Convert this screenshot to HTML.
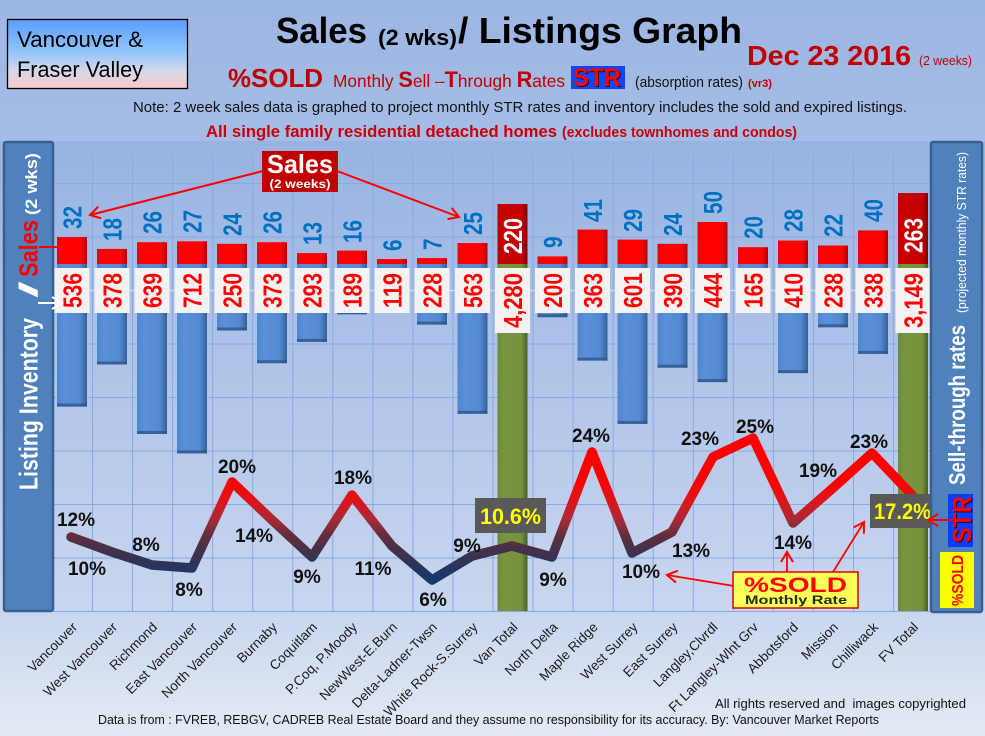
<!DOCTYPE html>
<html><head><meta charset="utf-8">
<style>
html,body{margin:0;padding:0;}
body{width:985px;height:736px;overflow:hidden;background:#c9d6ef;}
svg{display:block;font-family:"Liberation Sans",sans-serif;}
.sl{font-weight:bold;font-size:26px;fill:#0070c0;}
.il{font-weight:bold;font-size:26px;fill:#ff0000;}
.tl{font-weight:bold;font-size:26px;fill:#ffffff;}
.pc{font-weight:bold;font-size:19px;fill:#111;text-anchor:middle;}
.cat{font-size:13.5px;fill:#1a1a1a;text-anchor:end;}
</style></head><body>
<svg width="985" height="736" viewBox="0 0 985 736" xmlns="http://www.w3.org/2000/svg">
<defs>
 <linearGradient id="bgTop" x1="0" y1="0" x2="0" y2="1">
  <stop offset="0" stop-color="#9cb6e2"/><stop offset="1" stop-color="#a5bde6"/>
 </linearGradient>
 <linearGradient id="bgMain" gradientUnits="userSpaceOnUse" x1="0" y1="141" x2="0" y2="736">
  <stop offset="0" stop-color="#98b3e2"/><stop offset="0.79" stop-color="#c9d6ef"/><stop offset="1" stop-color="#e4eaf5"/>
 </linearGradient>
 <linearGradient id="vanbox" x1="0" y1="0" x2="0" y2="1">
  <stop offset="0" stop-color="#5b9dff"/><stop offset="0.45" stop-color="#8fc3fb"/><stop offset="0.75" stop-color="#d6d8ea"/><stop offset="1" stop-color="#fcc8cb"/>
 </linearGradient>
 <linearGradient id="blue" x1="0" y1="0" x2="1" y2="0">
  <stop offset="0" stop-color="#4e85cf"/><stop offset="0.25" stop-color="#5b90d8"/><stop offset="0.75" stop-color="#548ad3"/><stop offset="1" stop-color="#34609a"/>
 </linearGradient>
 <linearGradient id="red" x1="0" y1="0" x2="1" y2="0">
  <stop offset="0" stop-color="#ee0000"/><stop offset="0.2" stop-color="#ff0000"/><stop offset="0.8" stop-color="#fe0000"/><stop offset="1" stop-color="#b80000"/>
 </linearGradient>
 <linearGradient id="dred" x1="0" y1="0" x2="1" y2="0">
  <stop offset="0" stop-color="#b80000"/><stop offset="0.2" stop-color="#c80000"/><stop offset="0.8" stop-color="#c40000"/><stop offset="1" stop-color="#850000"/>
 </linearGradient>
 <linearGradient id="green" x1="0" y1="0" x2="1" y2="0">
  <stop offset="0" stop-color="#6e8935"/><stop offset="0.2" stop-color="#79953e"/><stop offset="0.8" stop-color="#76923c"/><stop offset="1" stop-color="#4a5d23"/>
 </linearGradient>
 <linearGradient id="line" gradientUnits="userSpaceOnUse" x1="0" y1="440" x2="0" y2="582">
  <stop offset="0" stop-color="#ff0000"/>
  <stop offset="0.27" stop-color="#ff0000"/>
  <stop offset="0.42" stop-color="#e01418"/>
  <stop offset="0.56" stop-color="#a82a36"/>
  <stop offset="0.68" stop-color="#5e2e3e"/>
  <stop offset="0.82" stop-color="#383250"/>
  <stop offset="1" stop-color="#123a6e"/>
 </linearGradient>
 <marker id="ar" markerUnits="userSpaceOnUse" markerWidth="14" markerHeight="14" viewBox="-12 -7 14 14" refX="0" refY="0" orient="auto">
  <path d="M-10,-6 L0,0 L-10,6" fill="none" stroke="#ff0000" stroke-width="2"/>
 </marker>
 <marker id="aw" markerUnits="userSpaceOnUse" markerWidth="14" markerHeight="14" viewBox="-12 -7 14 14" refX="0" refY="0" orient="auto">
  <path d="M-10,-6 L0,0 L-10,6" fill="none" stroke="#ffffff" stroke-width="2"/>
 </marker>
</defs>

<!-- backgrounds -->
<rect x="0" y="0" width="985" height="141" fill="url(#bgTop)"/>
<rect x="0" y="141" width="985" height="595" fill="url(#bgMain)"/>

<!-- grid -->
<g stroke="#87aae4" stroke-width="1">
 <line x1="53" y1="183.5" x2="930" y2="183.5"/>
 <line x1="53" y1="237" x2="930" y2="237"/>
 <line x1="53" y1="344" x2="930" y2="344"/>
 <line x1="53" y1="397.5" x2="930" y2="397.5"/>
 <line x1="53" y1="451" x2="930" y2="451"/>
 <line x1="53" y1="504.5" x2="930" y2="504.5"/>
 <line x1="53" y1="558" x2="930" y2="558"/>
 <line x1="53" y1="611.5" x2="930" y2="611.5"/>
 <line x1="92.5" y1="155" x2="92.5" y2="611"/>
 <line x1="132.5" y1="155" x2="132.5" y2="611"/>
 <line x1="172.6" y1="155" x2="172.6" y2="611"/>
 <line x1="212.7" y1="155" x2="212.7" y2="611"/>
 <line x1="252.7" y1="155" x2="252.7" y2="611"/>
 <line x1="292.8" y1="155" x2="292.8" y2="611"/>
 <line x1="332.8" y1="155" x2="332.8" y2="611"/>
 <line x1="372.9" y1="155" x2="372.9" y2="611"/>
 <line x1="412.9" y1="155" x2="412.9" y2="611"/>
 <line x1="452.9" y1="155" x2="452.9" y2="611"/>
 <line x1="493" y1="155" x2="493" y2="611"/>
 <line x1="533" y1="155" x2="533" y2="611"/>
 <line x1="573.1" y1="155" x2="573.1" y2="611"/>
 <line x1="613.2" y1="155" x2="613.2" y2="611"/>
 <line x1="653.2" y1="155" x2="653.2" y2="611"/>
 <line x1="693.3" y1="155" x2="693.3" y2="611"/>
 <line x1="733.3" y1="155" x2="733.3" y2="611"/>
 <line x1="773.4" y1="155" x2="773.4" y2="611"/>
 <line x1="813.4" y1="155" x2="813.4" y2="611"/>
 <line x1="853.5" y1="155" x2="853.5" y2="611"/>
 <line x1="893.5" y1="155" x2="893.5" y2="611"/>
</g>
<line x1="53" y1="290.5" x2="930" y2="290.5" stroke="#d6deeb" stroke-width="1.2"/>

<!-- blue inventory bars -->
<g fill="url(#blue)">
 <rect x="57" y="264" width="30" height="142.6"/>
 <rect x="97" y="264" width="30" height="100.5"/>
 <rect x="137" y="264" width="30" height="170"/>
 <rect x="177" y="264" width="30" height="189.4"/>
 <rect x="217" y="264" width="30" height="66.5"/>
 <rect x="257" y="264" width="30" height="99.2"/>
 <rect x="297" y="264" width="30" height="77.9"/>
 <rect x="337" y="264" width="30" height="50.3"/>
 <rect x="377" y="264" width="30" height="31.7"/>
 <rect x="417" y="264" width="30" height="60.6"/>
 <rect x="457.5" y="264" width="30" height="149.8"/>
 <rect x="537.5" y="264" width="30" height="53.2"/>
 <rect x="577.5" y="264" width="30" height="96.6"/>
 <rect x="617.5" y="264" width="30" height="159.9"/>
 <rect x="657.5" y="264" width="30" height="103.7"/>
 <rect x="697.5" y="264" width="30" height="118.1"/>
 <rect x="738" y="264" width="30" height="43.9"/>
 <rect x="778" y="264" width="30" height="109.1"/>
 <rect x="818" y="264" width="30" height="63.3"/>
 <rect x="858" y="264" width="30" height="89.9"/>
</g>
<!-- bar bottom shading -->
<g fill="#2d5385" opacity="0.75">
 <rect x="57" y="403.6" width="30" height="3"/>
 <rect x="97" y="361.5" width="30" height="3"/>
 <rect x="137" y="431" width="30" height="3"/>
 <rect x="177" y="450.4" width="30" height="3"/>
 <rect x="217" y="327.5" width="30" height="3"/>
 <rect x="257" y="360.2" width="30" height="3"/>
 <rect x="297" y="338.9" width="30" height="3"/>
 <rect x="337" y="311.3" width="30" height="3"/>
 <rect x="417" y="321.6" width="30" height="3"/>
 <rect x="457.5" y="410.8" width="30" height="3"/>
 <rect x="537.5" y="314.2" width="30" height="3"/>
 <rect x="577.5" y="357.6" width="30" height="3"/>
 <rect x="617.5" y="420.9" width="30" height="3"/>
 <rect x="657.5" y="364.7" width="30" height="3"/>
 <rect x="697.5" y="379.1" width="30" height="3"/>
 <rect x="778" y="370.1" width="30" height="3"/>
 <rect x="818" y="324.3" width="30" height="3"/>
 <rect x="858" y="350.9" width="30" height="3"/>
</g>

<!-- green total bars -->
<rect x="497.5" y="264" width="30" height="347" fill="url(#green)"/>
<rect x="898" y="264" width="30" height="347" fill="url(#green)"/>

<!-- red sales bars -->
<g fill="url(#red)">
 <rect x="57" y="237.1" width="30" height="26.9"/>
 <rect x="97" y="248.9" width="30" height="15.1"/>
 <rect x="137" y="242.2" width="30" height="21.8"/>
 <rect x="177" y="241.3" width="30" height="22.7"/>
 <rect x="217" y="243.8" width="30" height="20.2"/>
 <rect x="257" y="242.2" width="30" height="21.8"/>
 <rect x="297" y="253.1" width="30" height="10.9"/>
 <rect x="337" y="250.6" width="30" height="13.4"/>
 <rect x="377" y="259" width="30" height="5"/>
 <rect x="417" y="258.1" width="30" height="5.9"/>
 <rect x="457.5" y="243" width="30" height="21"/>
 <rect x="537.5" y="256.4" width="30" height="7.6"/>
 <rect x="577.5" y="229.6" width="30" height="34.4"/>
 <rect x="617.5" y="239.6" width="30" height="24.4"/>
 <rect x="657.5" y="243.8" width="30" height="20.2"/>
 <rect x="697.5" y="222" width="30" height="42"/>
 <rect x="738" y="247.2" width="30" height="16.8"/>
 <rect x="778" y="240.5" width="30" height="23.5"/>
 <rect x="818" y="245.5" width="30" height="18.5"/>
 <rect x="858" y="230.4" width="30" height="33.6"/>
</g>
<rect x="497.5" y="204" width="30" height="60" fill="url(#dred)"/>
<rect x="898" y="193" width="30" height="71" fill="url(#dred)"/>

<!-- sales labels (blue, rotated) -->
<g class="sl">
 <text transform="translate(81.3,229) rotate(-90)" textLength="23" lengthAdjust="spacingAndGlyphs">32</text>
 <text transform="translate(121.3,241) rotate(-90)" textLength="23" lengthAdjust="spacingAndGlyphs">18</text>
 <text transform="translate(161.3,234) rotate(-90)" textLength="23" lengthAdjust="spacingAndGlyphs">26</text>
 <text transform="translate(201.3,233) rotate(-90)" textLength="23" lengthAdjust="spacingAndGlyphs">27</text>
 <text transform="translate(241.3,236) rotate(-90)" textLength="23" lengthAdjust="spacingAndGlyphs">24</text>
 <text transform="translate(281.3,234) rotate(-90)" textLength="23" lengthAdjust="spacingAndGlyphs">26</text>
 <text transform="translate(321.3,245) rotate(-90)" textLength="23" lengthAdjust="spacingAndGlyphs">13</text>
 <text transform="translate(361.3,243) rotate(-90)" textLength="23" lengthAdjust="spacingAndGlyphs">16</text>
 <text transform="translate(401.3,251) rotate(-90)" textLength="11.5" lengthAdjust="spacingAndGlyphs">6</text>
 <text transform="translate(441.3,250) rotate(-90)" textLength="11.5" lengthAdjust="spacingAndGlyphs">7</text>
 <text transform="translate(481.8,235) rotate(-90)" textLength="23" lengthAdjust="spacingAndGlyphs">25</text>
 <text transform="translate(561.8,248) rotate(-90)" textLength="11.5" lengthAdjust="spacingAndGlyphs">9</text>
 <text transform="translate(601.8,222) rotate(-90)" textLength="23" lengthAdjust="spacingAndGlyphs">41</text>
 <text transform="translate(641.8,232) rotate(-90)" textLength="23" lengthAdjust="spacingAndGlyphs">29</text>
 <text transform="translate(681.8,236) rotate(-90)" textLength="23" lengthAdjust="spacingAndGlyphs">24</text>
 <text transform="translate(721.8,214) rotate(-90)" textLength="23" lengthAdjust="spacingAndGlyphs">50</text>
 <text transform="translate(762.3,239) rotate(-90)" textLength="23" lengthAdjust="spacingAndGlyphs">20</text>
 <text transform="translate(802.3,232) rotate(-90)" textLength="23" lengthAdjust="spacingAndGlyphs">28</text>
 <text transform="translate(842.3,237) rotate(-90)" textLength="23" lengthAdjust="spacingAndGlyphs">22</text>
 <text transform="translate(882.3,222) rotate(-90)" textLength="23" lengthAdjust="spacingAndGlyphs">40</text>
</g>
<g class="tl">
 <text transform="translate(521.8,254) rotate(-90)" textLength="36" lengthAdjust="spacingAndGlyphs">220</text>
 <text transform="translate(922.3,253) rotate(-90)" textLength="35" lengthAdjust="spacingAndGlyphs">263</text>
</g>

<!-- inventory label boxes -->
<g fill="#f2f2f2">
 <rect x="54.5" y="268" width="35" height="45"/>
 <rect x="94.5" y="268" width="35" height="45"/>
 <rect x="134.5" y="268" width="35" height="45"/>
 <rect x="174.5" y="268" width="35" height="45"/>
 <rect x="214.5" y="268" width="35" height="45"/>
 <rect x="254.5" y="268" width="35" height="45"/>
 <rect x="294.5" y="268" width="35" height="45"/>
 <rect x="334.5" y="268" width="35" height="45"/>
 <rect x="374.5" y="268" width="35" height="45"/>
 <rect x="414.5" y="268" width="35" height="45"/>
 <rect x="455" y="268" width="35" height="45"/>
 <rect x="495" y="268" width="35" height="65"/>
 <rect x="535" y="268" width="35" height="45"/>
 <rect x="575" y="268" width="35" height="45"/>
 <rect x="615" y="268" width="35" height="45"/>
 <rect x="655" y="268" width="35" height="45"/>
 <rect x="695" y="268" width="35" height="45"/>
 <rect x="735.5" y="268" width="35" height="45"/>
 <rect x="775.5" y="268" width="35" height="45"/>
 <rect x="815.5" y="268" width="35" height="45"/>
 <rect x="855.5" y="268" width="35" height="45"/>
 <rect x="895.5" y="268" width="35" height="65"/>
</g>
<g class="il">
 <text transform="translate(81.3,308) rotate(-90)" textLength="35" lengthAdjust="spacingAndGlyphs">536</text>
 <text transform="translate(121.3,308) rotate(-90)" textLength="35" lengthAdjust="spacingAndGlyphs">378</text>
 <text transform="translate(161.3,308) rotate(-90)" textLength="35" lengthAdjust="spacingAndGlyphs">639</text>
 <text transform="translate(201.3,308) rotate(-90)" textLength="35" lengthAdjust="spacingAndGlyphs">712</text>
 <text transform="translate(241.3,308) rotate(-90)" textLength="35" lengthAdjust="spacingAndGlyphs">250</text>
 <text transform="translate(281.3,308) rotate(-90)" textLength="35" lengthAdjust="spacingAndGlyphs">373</text>
 <text transform="translate(321.3,308) rotate(-90)" textLength="35" lengthAdjust="spacingAndGlyphs">293</text>
 <text transform="translate(361.3,308) rotate(-90)" textLength="35" lengthAdjust="spacingAndGlyphs">189</text>
 <text transform="translate(401.3,308) rotate(-90)" textLength="35" lengthAdjust="spacingAndGlyphs">119</text>
 <text transform="translate(441.3,308) rotate(-90)" textLength="35" lengthAdjust="spacingAndGlyphs">228</text>
 <text transform="translate(481.8,308) rotate(-90)" textLength="35" lengthAdjust="spacingAndGlyphs">563</text>
 <text transform="translate(521.8,328) rotate(-90)" textLength="55" lengthAdjust="spacingAndGlyphs">4,280</text>
 <text transform="translate(561.8,308) rotate(-90)" textLength="35" lengthAdjust="spacingAndGlyphs">200</text>
 <text transform="translate(601.8,308) rotate(-90)" textLength="35" lengthAdjust="spacingAndGlyphs">363</text>
 <text transform="translate(641.8,308) rotate(-90)" textLength="35" lengthAdjust="spacingAndGlyphs">601</text>
 <text transform="translate(681.8,308) rotate(-90)" textLength="35" lengthAdjust="spacingAndGlyphs">390</text>
 <text transform="translate(721.8,308) rotate(-90)" textLength="35" lengthAdjust="spacingAndGlyphs">444</text>
 <text transform="translate(762.3,308) rotate(-90)" textLength="35" lengthAdjust="spacingAndGlyphs">165</text>
 <text transform="translate(802.3,308) rotate(-90)" textLength="35" lengthAdjust="spacingAndGlyphs">410</text>
 <text transform="translate(842.3,308) rotate(-90)" textLength="35" lengthAdjust="spacingAndGlyphs">238</text>
 <text transform="translate(882.3,308) rotate(-90)" textLength="35" lengthAdjust="spacingAndGlyphs">338</text>
 <text transform="translate(922.3,328) rotate(-90)" textLength="55" lengthAdjust="spacingAndGlyphs">3,149</text>
</g>

<!-- %SOLD line -->
<polyline fill="none" stroke="url(#line)" stroke-width="9.5" stroke-linejoin="round" stroke-linecap="round"
 points="71,537 112,552 152,565 192,568 232,482 272,520 312,557 352,495 392,546 432,580 472,556 512,546 552,557 592,452 632,553 672,532 713,457 753,438 793,523 833,488 872,453 912,495"/>

<!-- percent labels -->
<g class="pc">
 <text x="76" y="526">12%</text>
 <text x="87" y="575">10%</text>
 <text x="146" y="551">8%</text>
 <text x="189" y="596">8%</text>
 <text x="237" y="473">20%</text>
 <text x="254" y="542">14%</text>
 <text x="307" y="583">9%</text>
 <text x="353" y="484">18%</text>
 <text x="373" y="575">11%</text>
 <text x="433" y="606">6%</text>
 <text x="467" y="552">9%</text>
 <text x="553" y="586">9%</text>
 <text x="591" y="442">24%</text>
 <text x="641" y="578">10%</text>
 <text x="691" y="557">13%</text>
 <text x="700" y="445">23%</text>
 <text x="755" y="433">25%</text>
 <text x="793" y="549">14%</text>
 <text x="818" y="477">19%</text>
 <text x="869" y="448">23%</text>
</g>

<!-- total % boxes -->
<rect x="475" y="498" width="71" height="35" fill="#595959"/>
<text x="480" y="524" font-weight="bold" font-size="22" fill="#ffff00" textLength="61" lengthAdjust="spacingAndGlyphs">10.6%</text>
<rect x="870" y="494" width="60" height="34" fill="#595959"/>
<text x="874" y="519" font-weight="bold" font-size="22" fill="#ffff00" textLength="57" lengthAdjust="spacingAndGlyphs">17.2%</text>

<!-- %SOLD Monthly Rate callout -->
<g stroke="#ff0000" stroke-width="1.8" fill="none">
 <line x1="734" y1="586" x2="667" y2="575" marker-end="url(#ar)"/>
 <line x1="787" y1="572" x2="787" y2="552" marker-end="url(#ar)"/>
 <line x1="833" y1="572" x2="864" y2="522" marker-end="url(#ar)"/>
</g>
<rect x="733" y="572" width="125" height="36" fill="#ffff5c" stroke="#e00000" stroke-width="1.5"/>
<text x="744" y="592" font-weight="bold" font-size="21" fill="#ff0000" textLength="103" lengthAdjust="spacingAndGlyphs">%SOLD</text>
<text x="745" y="604" font-weight="bold" font-size="11.5" fill="#1c2e0a" textLength="102" lengthAdjust="spacingAndGlyphs">Monthly Rate</text>

<!-- category labels -->
<g class="cat">
 <text transform="translate(78,628) rotate(-45)">Vancouver</text>
 <text transform="translate(118,628) rotate(-45)">West Vancouver</text>
 <text transform="translate(158,628) rotate(-45)">Richmond</text>
 <text transform="translate(198,628) rotate(-45)">East Vancouver</text>
 <text transform="translate(238,628) rotate(-45)">North Vancouver</text>
 <text transform="translate(278,628) rotate(-45)">Burnaby</text>
 <text transform="translate(318,628) rotate(-45)">Coquitlam</text>
 <text transform="translate(358,628) rotate(-45)">P.Coq, P.Moody</text>
 <text transform="translate(398,628) rotate(-45)">NewWest-E.Burn</text>
 <text transform="translate(438,628) rotate(-45)">Delta-Ladner-Twsn</text>
 <text transform="translate(478.5,628) rotate(-45)">White Rock-S.Surrey</text>
 <text transform="translate(518.5,628) rotate(-45)">Van Total</text>
 <text transform="translate(558.5,628) rotate(-45)">North Delta</text>
 <text transform="translate(598.5,628) rotate(-45)">Maple Ridge</text>
 <text transform="translate(638.5,628) rotate(-45)">West Surrey</text>
 <text transform="translate(678.5,628) rotate(-45)">East Surrey</text>
 <text transform="translate(718.5,628) rotate(-45)">Langley,Clvrdl</text>
 <text transform="translate(759,628) rotate(-45)">Ft Langley-Wlnt Grv</text>
 <text transform="translate(799,628) rotate(-45)">Abbotsford</text>
 <text transform="translate(839,628) rotate(-45)">Mission</text>
 <text transform="translate(879,628) rotate(-45)">Chilliwack</text>
 <text transform="translate(919,628) rotate(-45)">FV Total</text>
</g>

<!-- left panel -->
<rect x="4" y="142" width="49" height="469" rx="2" fill="#4f81bd" stroke="#3a5f8e" stroke-width="2.5"/>
<g font-weight="bold">
 <text transform="translate(37.5,490) rotate(-90)" font-size="26" fill="#ffffff" textLength="172" lengthAdjust="spacingAndGlyphs">Listing Inventory</text>
 <text transform="translate(37.5,298) rotate(-90)" font-size="26" fill="#ffffff" textLength="17" lengthAdjust="spacingAndGlyphs">/</text>
 <text transform="translate(37.5,277) rotate(-90)" font-size="26" fill="#ff0000" textLength="57" lengthAdjust="spacingAndGlyphs">Sales</text>
 <text transform="translate(37,215) rotate(-90)" font-size="17" fill="#ffffff" textLength="62" lengthAdjust="spacingAndGlyphs">(2  wks)</text>
</g>
<line x1="39" y1="247" x2="68" y2="247" stroke="#ff0000" stroke-width="2" marker-end="url(#ar)"/>
<line x1="38" y1="303" x2="62" y2="303" stroke="#ffffff" stroke-width="2" marker-end="url(#aw)"/>

<!-- right panel -->
<rect x="931" y="142" width="51" height="470" rx="2" fill="#4f81bd" stroke="#3a5f8e" stroke-width="2.5"/>
<text transform="translate(965,485) rotate(-90)" font-weight="bold" font-size="23" fill="#ffffff" textLength="160" lengthAdjust="spacingAndGlyphs">Sell-through rates</text>
<text transform="translate(966,313) rotate(-90)" font-size="13" fill="#ffffff" textLength="161" lengthAdjust="spacingAndGlyphs">(projected monthly STR rates)</text>
<rect x="948" y="494" width="25" height="53" fill="#0a3cff"/>
<text transform="translate(972,544) rotate(-90)" font-weight="bold" font-size="26" fill="#3a0000" textLength="47" lengthAdjust="spacingAndGlyphs">STR</text>
<text transform="translate(971,543) rotate(-90)" font-weight="bold" font-size="26" fill="#ff0000" textLength="47" lengthAdjust="spacingAndGlyphs">STR</text>
<rect x="940" y="552" width="34" height="56" fill="#ffff00"/>
<text transform="translate(963,606) rotate(-90)" font-weight="bold" font-size="16" fill="#ff0000" textLength="51" lengthAdjust="spacingAndGlyphs">%SOLD</text>
<line x1="953" y1="520" x2="928" y2="520" stroke="#ff0000" stroke-width="2" marker-end="url(#ar)"/>

<!-- Sales callout -->
<g stroke="#ff0000" stroke-width="2" fill="none">
 <line x1="263" y1="171" x2="90" y2="215" marker-end="url(#ar)"/>
 <line x1="337" y1="171" x2="459" y2="217" marker-end="url(#ar)"/>
</g>
<rect x="262" y="151" width="76" height="41" fill="#c00000"/>
<text x="300" y="173" text-anchor="middle" font-weight="bold" font-size="26" fill="#ffffff" textLength="66" lengthAdjust="spacingAndGlyphs">Sales</text>
<text x="300" y="188" text-anchor="middle" font-weight="bold" font-size="12" fill="#ffffff" textLength="61" lengthAdjust="spacingAndGlyphs">(2 weeks)</text>

<!-- header -->
<rect x="7.5" y="19.5" width="180" height="69" fill="url(#vanbox)" stroke="#000" stroke-width="1.3"/>
<text x="17" y="47" font-size="22" fill="#000" textLength="126" lengthAdjust="spacingAndGlyphs">Vancouver &amp;</text>
<text x="17" y="77" font-size="22" fill="#000" textLength="126" lengthAdjust="spacingAndGlyphs">Fraser Valley</text>

<text x="276" y="43" font-weight="bold" font-size="36" fill="#000" textLength="91" lengthAdjust="spacingAndGlyphs">Sales</text>
<text x="378" y="45" font-weight="bold" font-size="22" fill="#000" textLength="79" lengthAdjust="spacingAndGlyphs">(2 wks)</text>
<text x="458" y="43" font-weight="bold" font-size="36" fill="#000" textLength="284" lengthAdjust="spacingAndGlyphs">/ Listings Graph</text>

<text x="747" y="65" font-weight="bold" font-size="27.5" fill="#c00000" textLength="164" lengthAdjust="spacingAndGlyphs">Dec 23 2016</text>
<text x="919" y="65" font-size="13" fill="#c00000" textLength="53" lengthAdjust="spacingAndGlyphs">(2 weeks)</text>

<text x="228" y="87" font-weight="bold" font-size="26" fill="#c00000" textLength="95" lengthAdjust="spacingAndGlyphs">%SOLD</text>
<text x="333" y="87" font-size="17.5" fill="#c00000" textLength="232" lengthAdjust="spacingAndGlyphs">Monthly <tspan font-weight="bold" font-size="22">S</tspan>ell –<tspan font-weight="bold" font-size="22">T</tspan>hrough <tspan font-weight="bold" font-size="22">R</tspan>ates</text>
<rect x="571" y="66" width="54" height="23" fill="#0a46ff"/>
<text x="574" y="87" font-weight="bold" font-size="25" fill="#3a0000" textLength="48" lengthAdjust="spacingAndGlyphs">STR</text>
<text x="573" y="86" font-weight="bold" font-size="25" fill="#ff0000" textLength="48" lengthAdjust="spacingAndGlyphs">STR</text>
<text x="635" y="87" font-size="15" fill="#111" textLength="108" lengthAdjust="spacingAndGlyphs">(absorption rates)</text>
<text x="748" y="87" font-weight="bold" font-size="11" fill="#c00000" textLength="24" lengthAdjust="spacingAndGlyphs">(vr3)</text>

<text x="133" y="112" font-size="15" fill="#111" textLength="774" lengthAdjust="spacingAndGlyphs">Note: 2 week sales data is graphed to project monthly STR rates and inventory includes the sold and expired listings.</text>

<text x="206" y="137" font-weight="bold" font-size="17" fill="#c8000a" textLength="351" lengthAdjust="spacingAndGlyphs">All single family residential detached homes</text>
<text x="562" y="137" font-weight="bold" font-size="15" fill="#c8000a" textLength="235" lengthAdjust="spacingAndGlyphs">(excludes townhomes and condos)</text>

<!-- footer -->
<text x="715" y="708" font-size="12.5" fill="#111" textLength="251" lengthAdjust="spacingAndGlyphs">All rights reserved and&#160; images copyrighted</text>
<text x="98" y="724" font-size="12.5" fill="#111" textLength="781" lengthAdjust="spacingAndGlyphs">Data is from : FVREB, REBGV, CADREB Real Estate Board and they assume no responsibility for its accuracy. By: Vancouver Market Reports</text>
</svg>
</body></html>
